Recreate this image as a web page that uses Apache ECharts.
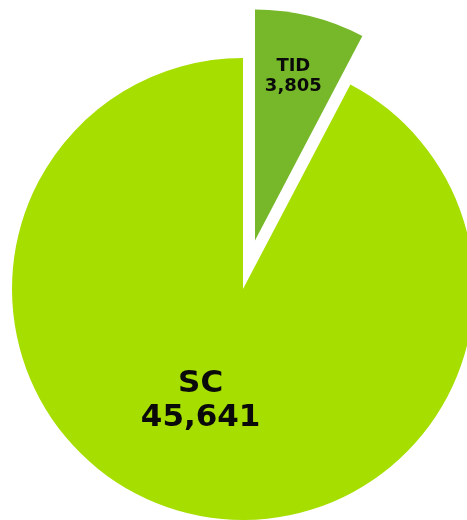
<!DOCTYPE html>
<html>
<head>
<meta charset="utf-8">
<script src="https://cdn.jsdelivr.net/npm/echarts@6/dist/echarts.min.js"></script>
<style>
html, body { margin: 0; padding: 0; background: #fff; }
#chartBox { width: 467px; height: 520px; }
</style>
</head>
<body>
<div id="chartBox"></div>
<script>
var names = ['TID', 'SC'];
var values = [3805, 45641];
var colors = ['#77B82A', '#A6DE00'];
var labelSizes = [18, 31];

var myChart = echarts.init(document.getElementById('chartBox'));

var pieList = [];
for (var i = 0; i < names.length; i++) {
    pieList.push({
        name: names[i],
        value: values[i],
        selected: i === 0,
        itemStyle: { color: colors[i] },
        label: { fontSize: labelSizes[i], lineHeight: labelSizes[i] * 1.12 }
    });
}

var option = {
    animation: false,
    series: [
        {
            type: 'pie',
            center: [243, 289],
            radius: [0, 231],
            startAngle: 90,
            clockwise: true,
            selectedMode: 'single',
            selectedOffset: 50,
            silent: true,
            data: pieList,
            label: {
                show: true,
                position: 'inside',
                color: '#0a0a0a',
                fontWeight: 'bold',
                fontFamily: 'DejaVu Sans',
                formatter: function (p) {
                    return p.name + '\n' + p.value.toLocaleString('en-US');
                }
            },
            labelLine: { show: false },
            labelLayout: function (params) {
                if (params.dataIndex === 0) {
                    return { dx: 10, dy: -49 };
                }
                return { dx: -14, dy: -3 };
            }
        }
    ]
};
myChart.setOption(option);
</script>
</body>
</html>
